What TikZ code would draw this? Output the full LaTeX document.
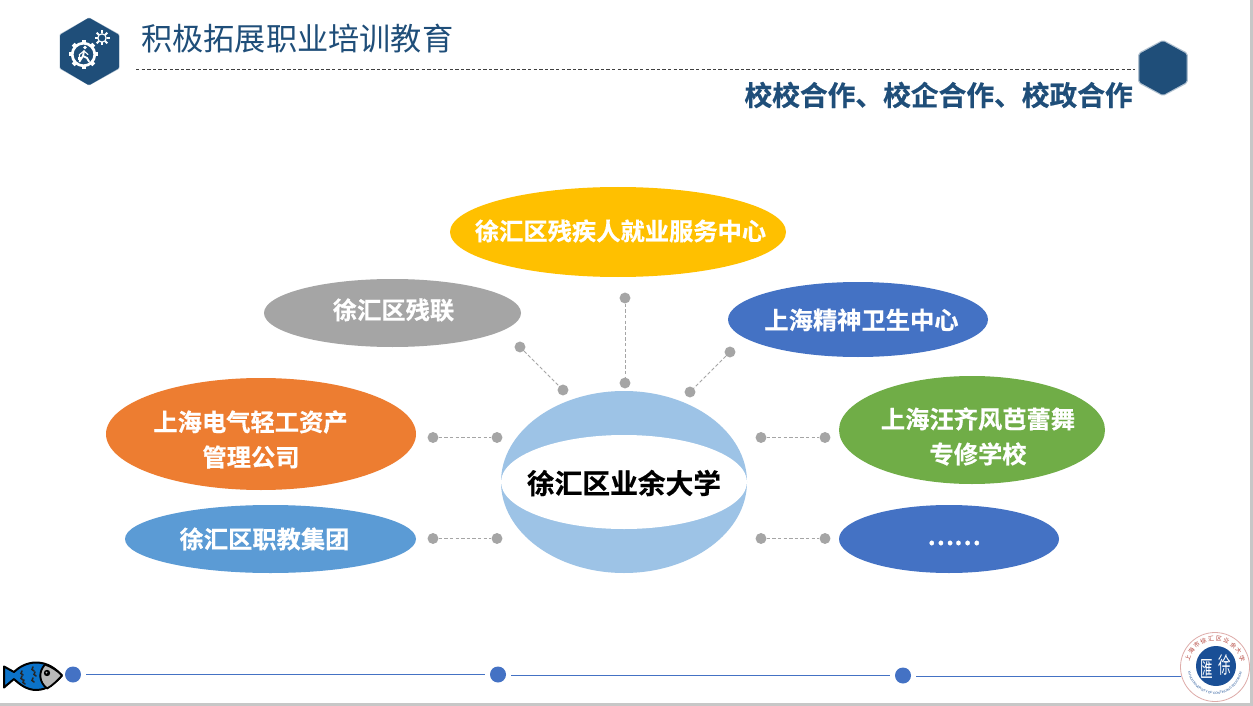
\documentclass[tikz,border=0pt]{standalone}
\usepackage{fontspec}
\usepackage{graphicx}
\setmainfont{Liberation Sans}
\newfontfamily\cjk{Noto Sans CJK SC}
\newfontfamily\cjkb[FakeBold=0.5]{Noto Sans CJK SC Bold}
\usetikzlibrary{shapes.geometric,decorations.text}
\definecolor{navy}{HTML}{1F4E79}
\definecolor{dotgray}{HTML}{A5A5A5}
\definecolor{lineblue}{HTML}{4472C4}
\definecolor{cyellow}{HTML}{FFC000}
\definecolor{corange}{HTML}{ED7D31}
\definecolor{cgreen}{HTML}{70AD47}
\definecolor{clight}{HTML}{5B9BD5}
\definecolor{cball}{HTML}{9DC3E6}
\definecolor{fishblue}{HTML}{0B72C9}
\definecolor{sealblue}{HTML}{1A4F96}
\definecolor{sealred}{HTML}{B5473F}
\tikzset{
  ell/.style n args={3}{ellipse,draw=none,inner sep=0pt,fill=#1,minimum width=#2*0.75pt,minimum height=#3*0.75pt},
  lbl/.style={text=white,inner sep=0pt,font=\cjkb\fontsize{18.2}{18.2}\selectfont},
  dotn/.style={circle,fill=dotgray,minimum size=8.2pt,inner sep=0pt},
  link/.style={draw=dotgray,dash pattern=on 2.6pt off 1.6pt,line width=0.75pt},
  tdot/.style={circle,fill=lineblue,minimum size=12pt,inner sep=0pt},
  tline/.style={draw=lineblue,line width=0.75pt},
}
\begin{document}
\begin{tikzpicture}[x=0.75pt,y=-0.75pt]
\useasboundingbox (0,0) rectangle (1253,706);
\fill[white] (0,0) rectangle (1253,706);
\fill[black!22] (0,703) rectangle (1253,706);
\fill[black!22] (1250,0) rectangle (1253,706);

% header
\fill[navy!35,line join=round,line width=2pt,draw=navy!35] (89,19)--(118,35)--(118,68)--(89,84)--(61,68)--(61,35)--cycle;
\fill[navy,draw=navy,line join=round,line width=3pt] (89,20)--(117,36)--(117,67)--(89,83)--(62,67)--(62,36)--cycle;
\foreach \a in {0,45,...,315}{\fill[white,rotate around={\a:(83.5,54.5)}] (81.5,40)rectangle(85.5,44);}
\draw[white,line width=2pt] (83.5,54.5) circle[radius=11.3];
\foreach \a in {0,45,...,315}{\fill[white,rotate around={\a:(102,38)}] (101,30.5)rectangle(103,33.5);}
\draw[white,line width=0.9pt] (102,38) circle[radius=4.2];
\fill[white] (85,47.5) circle[radius=1.9];
\draw[white,line width=1.4pt,line cap=round,line join=round] (84,51)--(83,56)--(79.5,61.5) (83,56)--(87,58)--(89,61.5);
\draw[white,line width=0.8pt,line cap=round] (84,51)--(79.5,54.5)--(79.5,57) (84,51)--(88,54.5);
\fill[white] (78,57) rectangle (81,60);

\node[anchor=west,inner sep=0pt,text=navy,font=\cjk\fontsize{23.4}{23.4}\selectfont] (title) at (141,39) {积极拓展职业培训教育};
\coordinate (hl) at (136,69.5);
\coordinate (hr) at (1135,69.5);
\draw[black!75,line width=0.6pt,dash pattern=on 2.6pt off 1.6pt] (hl)--(hr);
\fill[navy!35,draw=navy!35,line join=round,line width=5pt] (1163,43.5)--(1184.5,55)--(1184.5,81)--(1163,92.5)--(1141.5,81)--(1141.5,55)--cycle;
\fill[navy,draw=navy,line join=round,line width=4pt] (1163,44)--(1184,55.5)--(1184,80.5)--(1163,92)--(1142,80.5)--(1142,55.5)--cycle;
\node[anchor=east,inner sep=0pt,text=navy,font=\cjkb\fontsize{20.8}{20.8}\selectfont] (sub) at (1133,95) {校校合作、校企合作、校政合作};

% ellipses
\node[ell={cyellow}{336}{90}] (e1) at (618,232) {};
\node[ell={dotgray}{257}{68}] (e2) at (392.5,313) {};
\node[ell={lineblue}{260}{75}] (e3) at (858,319.5) {};
\node[ell={corange}{310}{112}] (e4) at (261,434) {};
\node[ell={cgreen}{266}{108}] (e5) at (972,430) {};
\node[ell={clight}{291}{68}] (e6) at (270.5,539) {};
\node[ell={lineblue}{220}{68}] (e7) at (949,539) {};
\node[ell={cball}{246}{182}] (ball) at (624,482) {};
\node[ell={white}{246}{94}] (lens) at (624,482) {};

\node[lbl] (t1) at (620.5,231) {徐汇区残疾人就业服务中心};
\node[lbl] (t2) at (393.5,310) {徐汇区残联};
\node[lbl] (t3) at (861.5,320) {上海精神卫生中心};
\node[lbl] (t4a) at (250.5,422) {上海电气轻工资产};
\node[lbl] (t4b) at (251,457) {管理公司};
\node[lbl] (t5a) at (978,419) {上海汪齐风芭蕾舞};
\node[lbl] (t5b) at (978,454) {专修学校};
\node[lbl] (t6) at (264.5,539) {徐汇区职教集团};
\node[lbl] (t7) at (954,543) {……};
\node[inner sep=0pt,text=black,font=\cjkb\fontsize{20.8}{20.8}\selectfont] (tc) at (624,483) {徐汇区业余大学};

% connectors
\foreach \n/\x/\y in {a1/520/347,a2/563/390,b1/625/298,b2/625/383,c1/730/352,c2/690/392,d1/433/437.5,d2/497/437.5,f1/433/538.5,f2/497/538.5,g1/761/437.5,g2/825/437.5,h1/761/538.5,h2/825/538.5}
  \node[dotn] (\n) at (\x,\y) {};
\foreach \p/\q in {a1/a2,b1/b2,c1/c2,d1/d2,f1/f2,g1/g2,h1/h2}
  \draw[link] (\p)--(\q);

% timeline
\node[tdot] (s1) at (73,674.5) {};
\node[tdot] (s2) at (498,674.5) {};
\node[tdot] (s3) at (903,675.5) {};
\coordinate (l1a) at (86,674.5);
\coordinate (l1b) at (485,674.5);
\coordinate (l2a) at (511,675.5);
\coordinate (l2b) at (890,675.5);
\coordinate (l3a) at (916,676.5);
\coordinate (l3b) at (1182,676.5);
\draw[tline] (l1a)--(l1b);
\draw[tline] (l2a)--(l2b);
\draw[tline] (l3a)--(l3b);

% fish
\draw[black,line width=1.5pt,fill=fishblue,line join=round]
  (36,662.5) .. controls (48,662.5) and (56,669) .. (62,675.5)
  .. controls (56,682) and (48,690) .. (36,690)
  .. controls (27,690) and (19,684) .. (14,679)
  -- (4,687.5) -- (4,666.5) -- (14,672)
  .. controls (19,667) and (27,662.5) .. (36,662.5) -- cycle;
\draw[black,line width=1.4pt,fill=black!28,line join=round]
  (45,664.5) .. controls (52,667) and (58,671) .. (62,675.5)
  .. controls (58,680) and (52,686) .. (47,688.5)
  .. controls (39,682) and (38,672) .. (45,664.5) -- cycle;
\fill[black] (47,673) circle[radius=3.2];
\fill[black!28] (46.5,672.5) circle[radius=1];
\foreach \x/\y in {22/671,33/667,24/680,33/678,22/676,35/672}
  \draw[black!85,line width=1.2pt,line cap=round] (\x,\y) .. controls (\x-2,\y+2) and (\x-1,\y+3) .. (\x+1,\y+4);

% seal
\fill[white] (1215,667) circle[radius=35];
\draw[sealred!45,line width=0.6pt] (1215,667) circle[radius=34.5];
\fill[sealblue] (1216,666) circle[radius=20];
\node[text=white,inner sep=0pt,font=\cjk\fontsize{10.5}{10.5}\selectfont] (sa) at (1225,665) {\scalebox{0.9}[1.6]{徐}};
\node[text=white,inner sep=0pt,font=\cjk\fontsize{10.5}{10.5}\selectfont] (sb) at (1207,669) {\scalebox{0.9}[1.6]{匯}};
\foreach \c [count=\i from 0] in {上,海,市,徐,汇,区,业,余,大,学}
  \node[text=sealred,inner sep=0pt,font=\cjk\fontsize{4.5}{4.5}\selectfont,rotate={72-\i*16}] at ({1215+28.5*cos(162-\i*16)},{667-28.5*sin(162-\i*16)}) {\c};
\begin{scope}[shift={(1215,667)},x=1pt,y=1pt]
\path[decorate,decoration={text along path,text align=center,text={|\fontsize{2.4}{3}\selectfont\color{sealblue}|XUHUI UNIVERSITY OF CONTINUING EDUCATION}}]
  (185:20.5pt) arc[start angle=185,end angle=355,radius=20.5pt];
\end{scope}
\end{tikzpicture}
\end{document}
